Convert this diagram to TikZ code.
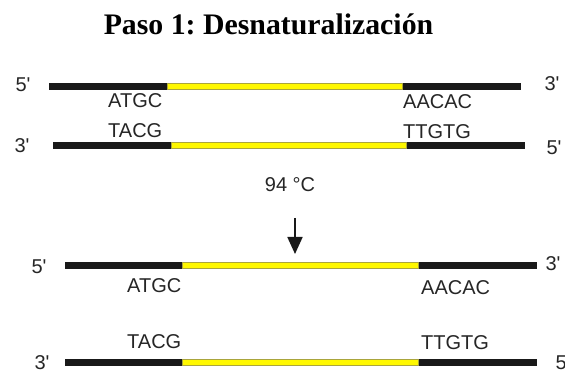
\documentclass[tikz,border=0pt]{standalone}
\usepackage{fontspec}
\setmainfont{Liberation Sans}
\newfontfamily\titlefont{Liberation Serif}
\usetikzlibrary{arrows.meta}
\frenchspacing
\definecolor{dnayellow}{RGB}{255,248,0}
\definecolor{dnaedge}{RGB}{170,165,60}
\newcommand{\pr}{\textquotesingle}
\tikzset{
  base/.style={font=\fontsize{20}{20}\selectfont, inner sep=0pt, text=black!85},
  seq/.style={base, anchor=west},
  endlabel/.style={base},
  strandblack/.style={line width=6.5pt, black!90},
  strandyellow/.style={line width=6.5pt, dnaedge},
  strandfill/.style={line width=5pt, dnayellow},
}
\begin{document}
\begin{tikzpicture}[x=1pt,y=-1pt]
\useasboundingbox (0,0) rectangle (565,374);
\fill[white] (0,0) rectangle (565,374);

\node[font=\titlefont\bfseries\fontsize{29.8}{30}\selectfont, anchor=base, inner sep=0pt] (title) at (268.5,35) {Paso 1: Desnaturalización};

% strand ends and yellow segment limits
\coordinate (s1l) at (49,86.5);  \coordinate (s1y1) at (167,86.5);  \coordinate (s1y2) at (403,86.5);  \coordinate (s1r) at (521,86.5);
\coordinate (s2l) at (53,145.5); \coordinate (s2y1) at (171,145.5); \coordinate (s2y2) at (407,145.5); \coordinate (s2r) at (525,145.5);
\coordinate (s3l) at (65,265.5); \coordinate (s3y1) at (182,265.5); \coordinate (s3y2) at (419,265.5); \coordinate (s3r) at (537,265.5);
\coordinate (s4l) at (65,362.3); \coordinate (s4y1) at (182,362.3); \coordinate (s4y2) at (419,362.3); \coordinate (s4r) at (537,362.3);

\foreach \s in {s1,s2,s3,s4}{
  \draw[strandblack] (\s l) -- (\s r);
  \draw[strandyellow] (\s y1) -- (\s y2);
  \draw[strandfill] ([xshift=0.7pt]\s y1) -- ([xshift=-0.7pt]\s y2);
}

% double strand before heating
\node[endlabel] (p1l) at (23,85) {5\pr};
\node[endlabel] (p1r) at (552,84) {3\pr};
\node[seq] (a1) at (108,100.5) {ATGC};
\node[seq] (a2) at (403,101.5) {AACAC};
\node[seq] (a3) at (108,130.5) {TACG};
\node[seq] (a4) at (403,131.5) {TTGTG};
\node[endlabel] (p2l) at (22,146) {3\pr};
\node[endlabel] (p2r) at (554,148) {5\pr};

% heating step
\node[base] (temp) at (290,185) {94 °C};
\coordinate (arrtop) at (295,218);
\coordinate (arrbot) at (295,254);
\draw[line width=1.8pt, black!90, -{Triangle[length=17pt,width=15pt]}] (arrtop) -- (arrbot);

% separated strands
\node[endlabel] (p3l) at (39,266.5) {5\pr};
\node[endlabel] (p3r) at (553,263.5) {3\pr};
\node[seq] (b1) at (127,285.5) {ATGC};
\node[seq] (b2) at (421,288) {AACAC};
\node[seq] (b3) at (127,341.5) {TACG};
\node[seq] (b4) at (421,343) {TTGTG};
\node[endlabel] (p4l) at (42,363) {3\pr};
\node[endlabel] (p4r) at (563,363) {5\pr};
\end{tikzpicture}
\end{document}
